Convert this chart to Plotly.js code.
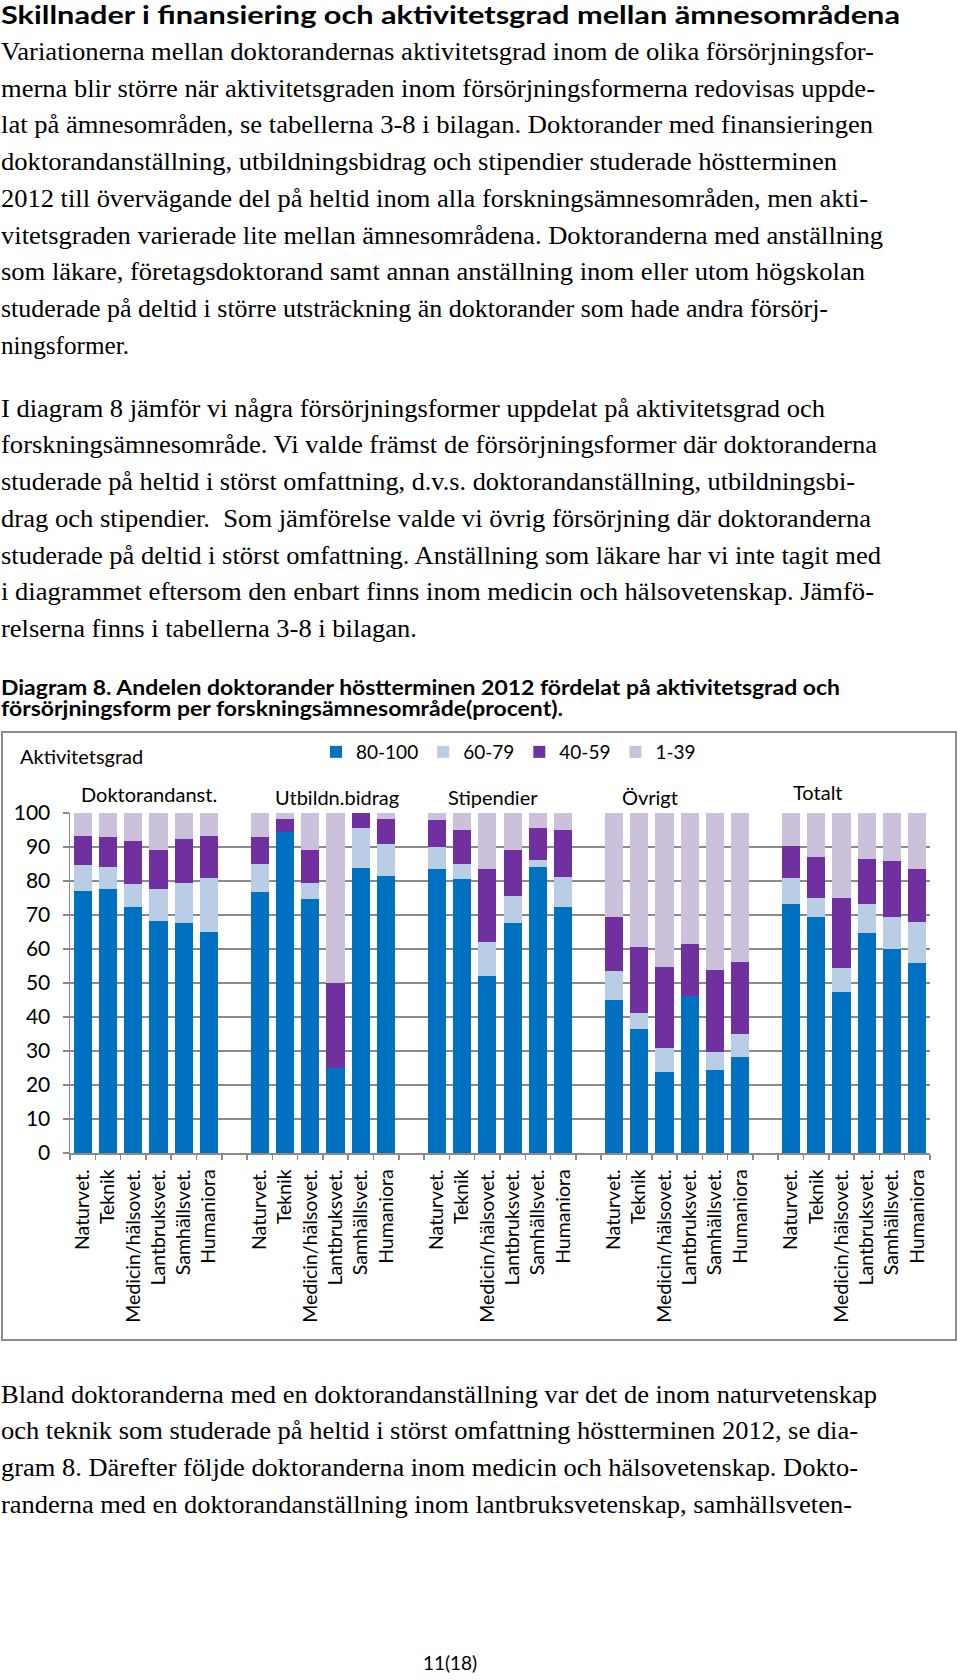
<!DOCTYPE html>
<html>
<head>
<meta charset="utf-8">
<script src="https://cdn.plot.ly/plotly-3.0.1.min.js"></script>
<style>
  html, body { margin:0; padding:0; background:#fff; }
  #page { position:relative; width:960px; height:1680px; overflow:hidden; background:#fff; }
  #chart { position:absolute; left:0; top:720px; width:960px; height:630px; z-index:1; }
  #frame { position:absolute; left:1px; top:731px; width:956px; height:610px; box-sizing:border-box; border:2px solid #8c8c8c; z-index:0; }
  #txt { position:absolute; left:0; top:0; width:960px; height:1680px; z-index:2; pointer-events:none; }
  #txt text { white-space: pre; }
</style>
</head>
<body>
<div id="page">
  <div id="frame"></div>
  <div id="chart"></div>
  <svg id="txt" xmlns="http://www.w3.org/2000/svg" width="960" height="1680"></svg>
</div>
<script>
// ---------------- DATA ----------------
const subjects = ["Naturvet.", "Teknik", "Medicin/hälsovet.", "Lantbruksvet.", "Samhällsvet.", "Humaniora"];
const groups = ["Doktorandanst.", "Utbildn.bidrag", "Stipendier", "Övrigt", "Totalt"];
const seriesNames = ["80-100", "60-79", "40-59", "1-39"];
// values in group order (Doktorandanst., Utbildn.bidrag, Stipendier, Övrigt, Totalt), subjects in order above
const s80_100 = [77.0, 77.7, 72.3, 68.2, 67.6, 65.0,
                 76.7, 94.5, 74.7, 25.0, 83.8, 81.5,
                 83.5, 80.6, 52.2, 67.6, 84.0, 72.5,
                 45.1, 36.5, 23.7, 46.3, 24.3, 28.1,
                 73.2, 69.5, 47.3, 64.8, 60.1, 55.8];
const s60_79 =  [7.7, 6.3, 6.9, 9.4, 11.7, 16.0,
                 8.4, 0.0, 4.7, 0.0, 11.9, 9.3,
                 6.4, 4.3, 9.9, 8.1, 2.3, 8.6,
                 8.5, 4.6, 7.2, 0.0, 5.3, 7.0,
                 7.8, 5.5, 7.0, 8.5, 9.4, 12.2];
const s40_59 =  [8.5, 8.9, 12.5, 11.4, 13.0, 12.2,
                 7.7, 3.7, 9.6, 25.0, 4.3, 7.4,
                 8.0, 10.2, 21.3, 13.5, 9.3, 13.8,
                 15.8, 19.4, 23.7, 15.2, 24.2, 21.2,
                 9.4, 12.2, 20.6, 13.3, 16.5, 15.6];
const s1_39 =   [6.8, 7.1, 8.3, 11.0, 7.7, 6.8,
                 7.2, 1.8, 11.0, 50.0, 0.0, 1.8,
                 2.1, 4.9, 16.6, 10.8, 4.4, 5.1,
                 30.6, 39.5, 45.4, 38.5, 46.2, 43.7,
                 9.6, 12.8, 25.1, 13.4, 14.0, 16.4];

// ---------------- TEXT CONTENT ----------------
const titleText = "Skillnader i finansiering och aktivitetsgrad mellan ämnesområdena";
const para1 = [
  "Variationerna mellan doktorandernas aktivitetsgrad inom de olika försörjningsfor-",
  "merna blir större när aktivitetsgraden inom försörjningsformerna redovisas uppde-",
  "lat på ämnesområden, se tabellerna 3-8 i bilagan. Doktorander med finansieringen",
  "doktorandanställning, utbildningsbidrag och stipendier studerade höstterminen",
  "2012 till övervägande del på heltid inom alla forskningsämnesområden, men akti-",
  "vitetsgraden varierade lite mellan ämnesområdena. Doktoranderna med anställning",
  "som läkare, företagsdoktorand samt annan anställning inom eller utom högskolan",
  "studerade på deltid i större utsträckning än doktorander som hade andra försörj-",
  "ningsformer."
];
const para2 = [
  "I diagram 8 jämför vi några försörjningsformer uppdelat på aktivitetsgrad och",
  "forskningsämnesområde. Vi valde främst de försörjningsformer där doktoranderna",
  "studerade på heltid i störst omfattning, d.v.s. doktorandanställning, utbildningsbi-",
  "drag och stipendier.  Som jämförelse valde vi övrig försörjning där doktoranderna",
  "studerade på deltid i störst omfattning. Anställning som läkare har vi inte tagit med",
  "i diagrammet eftersom den enbart finns inom medicin och hälsovetenskap. Jämfö-",
  "relserna finns i tabellerna 3-8 i bilagan."
];
const caption = [
  "Diagram 8. Andelen doktorander höstterminen 2012 fördelat på aktivitetsgrad och",
  "försörjningsform per forskningsämnesområde(procent)."
];
const para3 = [
  "Bland doktoranderna med en doktorandanställning var det de inom naturvetenskap",
  "och teknik som studerade på heltid i störst omfattning höstterminen 2012, se dia-",
  "gram 8. Därefter följde doktoranderna inom medicin och hälsovetenskap. Dokto-",
  "randerna med en doktorandanställning inom lantbruksvetenskap, samhällsveten-"
];
const pageNo = "11(18)";
const yAxisLabel = "Aktivitetsgrad";

// ---------------- PAGE TEXT (SVG) ----------------
const svg = document.getElementById("txt");
const NS = "http://www.w3.org/2000/svg";
function addText(str, x, y, opts) {
  const t = document.createElementNS(NS, "text");
  t.setAttribute("x", x);
  t.setAttribute("y", y);
  t.setAttribute("font-family", opts.family);
  t.setAttribute("font-size", opts.size);
  if (opts.weight) t.setAttribute("font-weight", opts.weight);
  if (opts.anchor) t.setAttribute("text-anchor", opts.anchor);
  if (opts.len) { t.setAttribute("textLength", opts.len); t.setAttribute("lengthAdjust", "spacingAndGlyphs"); }
  t.setAttribute("fill", "#000");
  t.textContent = str;
  svg.appendChild(t);
}
const serif = "'Liberation Serif', 'Times New Roman', serif";
const sansB = "Lato, 'Open Sans', sans-serif";
const LH = 36.7;
addText(titleText, 1, 24, {family: sansB, size: 24, weight: "bold", len: 899});
const p1W = [873, 874, 872, 836, 867, 882, 864, 827, 128];
para1.forEach((s, i) => addText(s, 1, 60 + i * LH, {family: serif, size: 25.5, len: p1W[i]}));
const p2W = [824, 876, 854, 870, 880, 873, 416];
para2.forEach((s, i) => addText(s, 1, 416.7 + i * LH, {family: serif, size: 25.5, len: p2W[i]}));
const capW = [839, 562];
caption.forEach((s, i) => addText(s, 1, 695 + i * 21, {family: sansB, size: 20, weight: "bold", len: capW[i]}));
const p3W = [876, 857, 857, 851];
para3.forEach((s, i) => addText(s, 1, 1402.7 + i * LH, {family: serif, size: 25.5, len: p3W[i]}));
addText(pageNo, 450, 1670, {family: "Lato, sans-serif", size: 19, anchor: "middle"});

// ---------------- CHART ----------------
const nSub = subjects.length;
const xPos = [];
const tickText = [];
groups.forEach((g, gi) => subjects.forEach((s, si) => { xPos.push(gi * (nSub + 1) + si); tickText.push(s); }));
const nCat = groups.length * (nSub + 1) - 1;
const boundaries = [];
for (let k = 0; k <= nCat; k++) boundaries.push(k - 0.5);

const colors = ["#0070C0", "#B9CDE5", "#7030A0", "#CCC1DA"];
const seriesVals = [s80_100, s60_79, s40_59, s1_39];
const traces = seriesVals.map((vals, i) => ({
  type: "bar",
  name: seriesNames[i],
  x: xPos,
  y: vals,
  width: 0.72,
  marker: {color: colors[i], line: {width: 0}},
  hoverinfo: "skip"
}));

const gridCol = "#8a8a8a";
const chartFont = "Lato, Carlito, 'Open Sans', sans-serif";
const L = 70, R = 30, T = 93, B = 197, W = 960, H = 630;
const pw = W - L - R, ph = H - T - B, plotBottom = 720 + H - B;
const px2x = px => (px - L) / pw;
const py2y = py => (plotBottom - py) / ph;

const groupLabelPos = [[149, 794], [337, 797], [493, 797], [650, 797], [818, 792]];
const annotations = groups.map((g, i) => ({
  text: g, xref: "paper", yref: "paper",
  x: px2x(groupLabelPos[i][0]), y: py2y(groupLabelPos[i][1]),
  xanchor: "center", yanchor: "middle", showarrow: false,
  font: {family: chartFont, size: 20, color: "#000"}
}));
annotations.push({
  text: yAxisLabel, xref: "paper", yref: "paper",
  x: px2x(18), y: py2y(756), xanchor: "left", yanchor: "middle", showarrow: false,
  font: {family: chartFont, size: 20, color: "#000"}
});

const layout = {
  width: W, height: H,
  margin: {l: L, r: R, t: T, b: B, pad: 0},
  paper_bgcolor: "rgba(0,0,0,0)",
  plot_bgcolor: "rgba(0,0,0,0)",
  barmode: "stack",
  bargap: 0.28,
  font: {family: chartFont, size: 18, color: "#000"},
  showlegend: true,
  legend: {
    orientation: "h", x: px2x(316), y: py2y(752), xanchor: "left", yanchor: "middle",
    traceorder: "normal", font: {family: chartFont, size: 19, color: "#000"},
    bgcolor: "rgba(0,0,0,0)", itemclick: false, itemdoubleclick: false
  },
  xaxis: {
    range: [-0.5, nCat - 0.5],
    tickmode: "array", tickvals: xPos, ticktext: tickText,
    tickangle: -90, ticks: "outside", ticklen: 5, tickcolor: "rgba(0,0,0,0)",
    ticklabelstandoff: 2,
    showline: true, linecolor: gridCol, linewidth: 1.5,
    showgrid: false, zeroline: false, fixedrange: true,
    tickfont: {family: chartFont, size: 19.5, color: "#000"},
    minor: {tickmode: "array", tickvals: boundaries, ticks: "outside", ticklen: 5, tickcolor: gridCol, tickwidth: 1.5, showgrid: false}
  },
  yaxis: {
    range: [0, 100], tickmode: "linear", tick0: 0, dtick: 10,
    ticks: "outside", ticklen: 6, tickcolor: gridCol, tickwidth: 1.5,
    showline: true, linecolor: gridCol, linewidth: 1.5,
    showgrid: true, gridcolor: gridCol, gridwidth: 1.5,
    zeroline: false, fixedrange: true, ticklabelstandoff: 8,
    tickfont: {family: chartFont, size: 21, color: "#000"}
  },
  annotations: annotations
};

Plotly.newPlot("chart", traces, layout, {displayModeBar: false, staticPlot: true});
</script>
</body>
</html>
